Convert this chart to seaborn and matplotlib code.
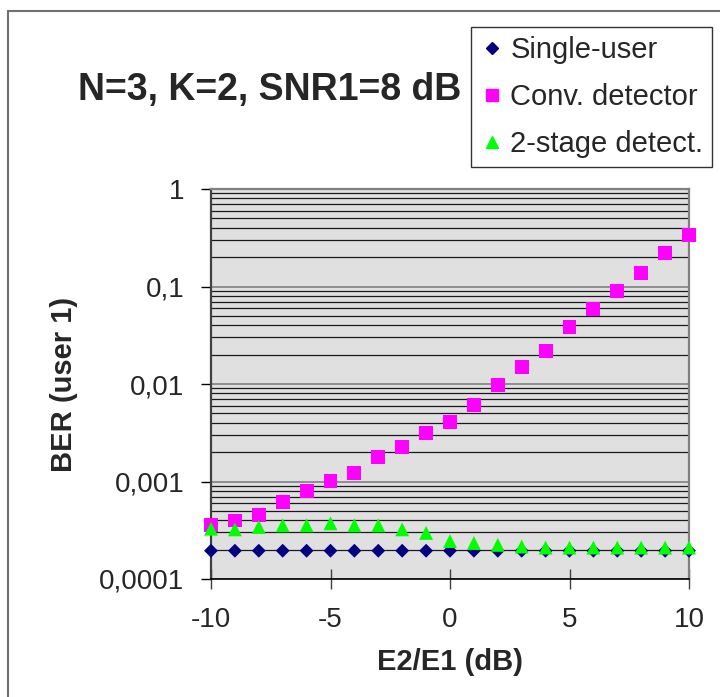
import pandas as pd
import matplotlib
matplotlib.use("Agg")
import matplotlib.pyplot as plt
from matplotlib.lines import Line2D
from matplotlib.ticker import LogLocator, FixedLocator, FixedFormatter, NullFormatter
import seaborn as sns

# -----------------------------
# Data
# -----------------------------
e2_e1_db = [-10, -9, -8, -7, -6, -5, -4, -3, -2, -1, 0,
            1, 2, 3, 4, 5, 6, 7, 8, 9, 10]

ber_single = [0.000195, 0.000195, 0.000195, 0.000195, 0.000195, 0.000195, 0.000195,
              0.000195, 0.000195, 0.000195, 0.000195, 0.000195, 0.000195, 0.000195,
              0.000195, 0.000195, 0.000195, 0.000195, 0.000195, 0.000195, 0.000195]

ber_conv = [0.000358, 0.000398, 0.000454, 0.00061, 0.0008, 0.00102, 0.00122,
            0.00178, 0.00226, 0.00314, 0.0041, 0.0061, 0.0098, 0.0149,
            0.0217, 0.0386, 0.0585, 0.0901, 0.138, 0.221, 0.338]

ber_two_stage = [0.000328, 0.000323, 0.000342, 0.000355, 0.000355, 0.000372, 0.000355,
                 0.000355, 0.000323, 0.000297, 0.000245, 0.000234, 0.000224, 0.000215,
                 0.00021, 0.00021, 0.00021, 0.00021, 0.00021, 0.00021, 0.00021]

series_names = ["Single-user", "Conv. detector", "2-stage detect."]
title_text = "N=3, K=2, SNR1=8 dB"
x_label = "E2/E1 (dB)"
y_label = "BER (user 1)"
xtick_values = [-10, -5, 0, 5, 10]
ytick_values = [0.0001, 0.001, 0.01, 0.1, 1]
ytick_labels = ["0,0001", "0,001", "0,01", "0,1", "1"]

# styles
series_colors = ["#000080", "#FF00FF", "#00FF00"]
series_markers = ["D", "s", "^"]
marker_area = [50, 100, 100]

sns.set_style("white")
plt.rcParams["font.family"] = ["Liberation Sans", "DejaVu Sans"]
plt.rcParams["axes.unicode_minus"] = False

fig = plt.figure(figsize=(7.2, 6.97), dpi=100)
ax = fig.add_axes([211 / 720, 1 - 579 / 697, 478 / 720, 390 / 697])
ax.set_facecolor("#E0E0E0")
ax.set_yscale("log")

all_series = [ber_single, ber_conv, ber_two_stage]
for name, values, col, mk, area in zip(series_names, all_series, series_colors,
                                       series_markers, marker_area):
    df = pd.DataFrame({"x": e2_e1_db, "ber": values})
    sns.scatterplot(data=df, x="x", y="ber", ax=ax, color=col, marker=mk, s=area,
                    linewidth=0, edgecolor="none", clip_on=False, zorder=3,
                    legend=False)

ax.set_xlim(-10, 10)
ax.set_ylim(1e-4, 1)

# ticks
ax.xaxis.set_major_locator(FixedLocator(xtick_values))
ax.yaxis.set_major_locator(FixedLocator(ytick_values))
ax.yaxis.set_major_formatter(FixedFormatter(ytick_labels))
ax.yaxis.set_minor_locator(LogLocator(base=10, subs=range(2, 10)))
ax.yaxis.set_minor_formatter(NullFormatter())
ax.tick_params(axis="y", which="major", direction="out", length=7, width=1,
               color="black", labelsize=20, pad=12, left=True)
ax.tick_params(axis="y", which="minor", length=0, left=False)
ax.tick_params(axis="x", which="major", direction="inout", length=14, width=1,
               color="#404040", labelsize=20, pad=13, bottom=True)

# gridlines
ax.set_axisbelow(True)
ax.yaxis.grid(True, which="major", color="#808080", linewidth=1.2)
ax.yaxis.grid(True, which="minor", color="#1a1a1a", linewidth=0.9)
ax.xaxis.grid(False)

for side, col, lw in [("left", "#404040", 1.6), ("bottom", "black", 1.2),
                      ("top", "#808080", 1.6), ("right", "#808080", 1.6)]:
    ax.spines[side].set_visible(True)
    ax.spines[side].set_color(col)
    ax.spines[side].set_linewidth(lw)

ax.set_xlabel(x_label, fontsize=21, fontweight="bold")
ax.set_ylabel(y_label, fontsize=21, fontweight="bold")
ax.xaxis.set_label_coords(0.5, -0.176)
ax.yaxis.set_label_coords(-0.278, 0.5)

fig.text(270 / 720, 1 - 100 / 697, title_text, fontsize=27, fontweight="bold",
         ha="center", va="baseline")

handles = [Line2D([], [], linestyle="none", marker=mk, color=col, markersize=ms)
           for mk, col, ms in zip(series_markers, series_colors, [6, 8, 8])]
leg = ax.legend(handles, series_names, loc="upper left",
                bbox_to_anchor=(471 / 720, 1 - 27 / 697),
                bbox_transform=fig.transFigure, fontsize=21, frameon=True,
                fancybox=False, shadow=False, borderpad=0.3, labelspacing=0.66,
                handlelength=0.85, handletextpad=0.2, borderaxespad=0)
leg.get_frame().set_edgecolor("black")
leg.get_frame().set_linewidth(1.0)
leg.get_frame().set_facecolor("white")

# outer chart border (only top and left are visible)
fig.add_artist(Line2D([8 / 720, 8 / 720], [1 - 11 / 697, 0],
                      transform=fig.transFigure, color="#707070", linewidth=1.5))
fig.add_artist(Line2D([8 / 720, 1], [1 - 11 / 697, 1 - 11 / 697],
                      transform=fig.transFigure, color="#707070", linewidth=1.5))

fig.savefig("out.png", dpi=100)
